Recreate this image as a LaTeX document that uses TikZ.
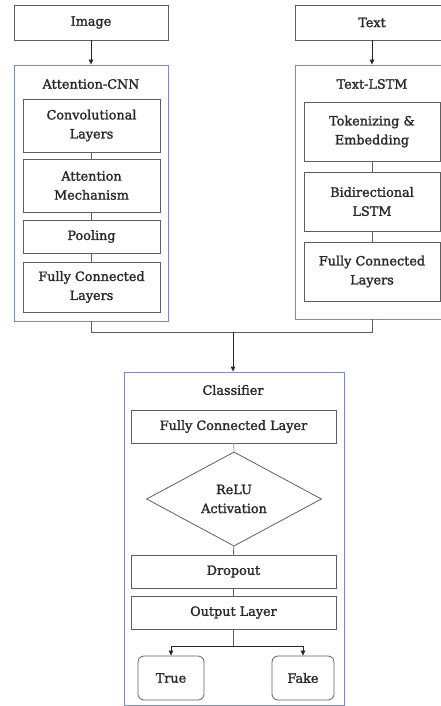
\documentclass[tikz,border=0pt]{standalone}
\usepackage{fontspec}
\setmainfont[FakeBold=1.6]{DejaVu Serif}
\usetikzlibrary{shapes.geometric,arrows.meta}
\definecolor{frame}{RGB}{128,140,172}
\definecolor{edge}{RGB}{95,95,95}
\definecolor{ink}{RGB}{40,40,40}
\begin{document}
\begin{tikzpicture}[x=1pt,y=-1pt,font=\fontsize{12.8}{19}\selectfont,text=ink]
\tikzstyle{ob} = [draw=frame,line width=0.9pt,inner sep=0pt] %outer block
\tikzstyle{ib} = [draw=edge,line width=0.8pt,align=center,inner sep=0pt] %inner block
\tikzstyle{ln} = [-,draw=edge,line width=0.8pt] %plain line
\tikzstyle{ar} = [-{Triangle[length=5pt,width=4.5pt]},draw=ink,line width=0.7pt] %arrow
\useasboundingbox (0,0) rectangle (440,706);
% inputs
\node[ib,minimum width=154,minimum height=35](img)at(91,22.5){Image};
\node[ib,minimum width=154,minimum height=35](txt)at(372,22.5){Text};
% attention-cnn branch
\node[ob,minimum width=154,minimum height=256](cnn)at(91,193){};
\node(tcnn)at(91,84){Attention-CNN};
\node[ib,minimum width=137,minimum height=53](conv)at(91.5,125.5){Convolutional\\Layers};
\node[ib,minimum width=137,minimum height=53](att)at(91.5,185.5){Attention\\Mechanism};
\node[ib,minimum width=137,minimum height=33](pool)at(91.5,236.5){Pooling};
\node[ib,minimum width=137,minimum height=50](fcl)at(91.5,287){Fully Connected\\Layers};
% text-lstm branch
\node[ob,minimum width=154,minimum height=254](lstm)at(372,192){};
\node(tlstm)at(372,84){Text-LSTM};
\node[ib,minimum width=136,minimum height=59](tok)at(372,131.5){Tokenizing \&\\Embedding};
\node[ib,minimum width=136,minimum height=59](bid)at(372,201.5){Bidirectional\\LSTM};
\node[ib,minimum width=136,minimum height=59](fcr)at(372,271.5){Fully Connected\\Layers};
% classifier
\node[ob,minimum width=220,minimum height=333](cls)at(234,538.5){};
\node(tcls)at(233,390){Classifier};
\node[ib,minimum width=205,minimum height=33](fc)at(233.5,426.5){Fully Connected Layer};
\node[ib,diamond,minimum width=175,minimum height=92](relu)at(234,499){ReLU\\Activation};
\node[ib,minimum width=205,minimum height=33](drop)at(233.5,571.5){Dropout};
\node[ib,minimum width=205,minimum height=33](out)at(233.5,612.5){Output Layer};
\node[ib,rounded corners=6pt,minimum width=66,minimum height=44](true)at(171,678){True};
\node[ib,rounded corners=6pt,minimum width=62,minimum height=44](fake)at(303,678){Fake};
\coordinate(mg)at(233,332);
\coordinate(sp)at(233,646);
% connectors
\draw[ar](img)--(cnn);
\draw[ar](txt)--(lstm);
\draw[ln](conv)--(att);
\draw[ln](att)--(pool);
\draw[ln](pool)--(fcl);
\draw[ln](tok)--(bid);
\draw[ln](bid)--(fcr);
\draw[ln](cnn.south)|-(mg);
\draw[ln](lstm.south)|-(mg);
\draw[ar](mg)--(cls.north-|mg);
\draw[ln,draw=frame!70](fc)--(relu);
\draw[ln](relu)--(drop);
\draw[ln](drop)--(out);
\draw[ln](out.south-|sp)--(sp);
\draw[ar](sp)-|(true);
\draw[ar](sp)-|(fake);
\end{tikzpicture}
\end{document}
